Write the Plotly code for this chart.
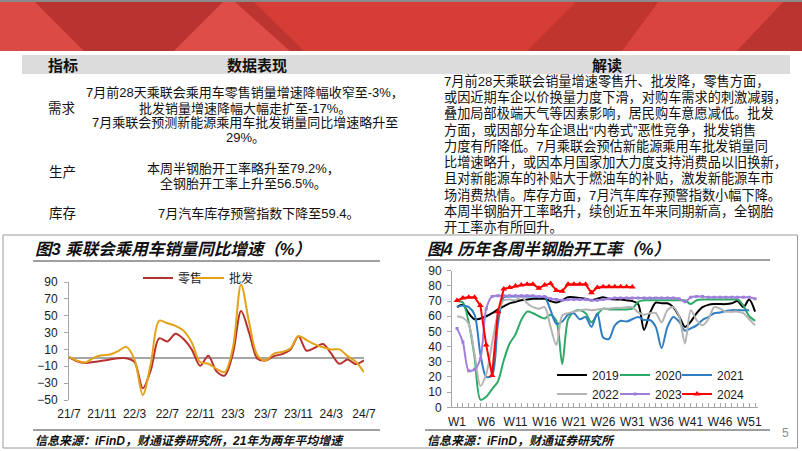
import plotly.graph_objects as go

W, H = 802, 451
def px(x): return x / W
def py(y): return 1 - y / H

FONT = "Liberation Sans, Noto Sans CJK SC, sans-serif"

# ---------------- data: left chart ----------------
months = ['21/7','21/8','21/9','21/10','21/11','21/12',
          '22/1','22/2','22/3','22/4','22/5','22/6','22/7','22/8','22/9','22/10','22/11','22/12',
          '23/1','23/2','23/3','23/4','23/5','23/6','23/7','23/8','23/9','23/10','23/11','23/12',
          '24/1','24/2','24/3','24/4','24/5','24/6','24/7']
month_ticks = ['21/7','21/11','22/3','22/7','22/11','23/3','23/7','23/11','24/3','24/7']
retail = [1, -4, -6, -5, -3.5, -2,
          -0.5, -0.5, -5, -36, -14, 23, 19.5, 28.5, 22, 9.5, -9.5, 2.5,
          -16, -21, 5, 55.5, 29, -1, -3, 2, 4.5, 9.5, 25.5, 8.5,
          12, 16.5, 5, -7, -2, -7.5, -3]
wholesale = [1.5, -3.5, -5.5, 0, 3, 4,
             8, 13, -2, -44, -6, 44, 41, 38, 32, 18, -5, -7,
             -13, -17, 12, 87, 41, 3, -3, 5, 7, 11, 26, 21,
             16, 12.5, 10, 10, 2, -4.5, -17]

# ---------------- data: right chart ----------------
weeks = list(range(1, 53))
week_ticks = [1, 6, 11, 16, 21, 26, 31, 36, 41, 46, 51]
week_labels = ['W1','W6','W11','W16','W21','W26','W31','W36','W41','W46','W51']
y2019 = [66, 67.5, 62, 58, 58.5, 60, 62, 64.5, 66.5, 68.5, 69.5, 70.5, 71, 71.5, 71.5, 71.5, 70, 69,
         70.5, 72.5, 72.5, 72, 71.5, 70.5, 71.5, 72.5, 71.5, 71, 71, 70.5, 70, 68, 51, 62, 69, 68.5,
         68.5, 66, 60, 53, 56.5, 62, 66, 67.5, 68, 68, 68, 68.5, 70, 66, 71, 63]
y2020 = [70, 69, 56, 33, 5, 7, 12, 17, 31, 42, 48, 57.5, 63, 62, 60, 58.5, 61, 57, 28.5, 58,
         63, 64, 62, 56, 61, 65, 64.5, 64.5, 64.5, 64.5, 65, 69.5, 70.5, 70.5, 70.5, 70.5, 70.5,
         70.5, 70.5, 70.5, 68, 70.5, 71, 71, 71, 71, 71, 71, 71, 67, 60, 57]
y2021 = [66, 67, 66, 61, 35, 20, 21, 55, 72.5, 73, 73, 73, 73, 73, 72.5, 72.5, 64, 55, 56.5, 61,
         62, 58, 59.5, 53, 62, 46, 45, 54, 57, 56.5, 58, 59.5, 57.5, 57.5, 53, 39, 53, 59.5, 56.5,
         50.5, 52, 54, 57.5, 59.5, 62, 62.5, 63.5, 64, 64, 64, 64, None]
y2022 = [60, 59, 55, 35, 14, 22, 42, 62, 70.5, 71, 70.5, 73, 68.5, 66, 65, 66, 53, 41, 60.5, 62,
         63, 64, 64.5, 64, 64.5, 65, 65, 65.5, 65.5, 66, 66, 62.5, 61, 62, 62, 56, 64, 66, 60, 42,
         64, 57.5, 54, 58, 66, 65, 63, 63, 63, 62, 58, 54]
y2023 = [52, 43, 24, 25, 32, 65, 73, 73.5, 73.5, 73.5, 73.5, 73.5, 73.5, 73.5, 73, 73, 71.5, 71,
         70.5, 71, 71, 71, 71, 70.5, 70.5, 71, 71.5, 72, 72, 72, 72, 72, 72, 72, 72, 72, 72, 72,
         71.5, 69.5, 72.5, 73, 73, 72.5, 72.5, 72.5, 72.5, 72.5, 72.5, 72.5, 72.5, 71.5]
y2024 = [70.3, 72, 72.5, 72.5, 67, 41, 21, 63, 78, 79, 80, 80.5, 81, 81, 78.5, 80.5, 81.5, 77,
         76.5, 81, 81, 81, 81, 75.5, 79, 79.5, 79.5, 79.5, 79.5, 79.5, 79.2]

# ---------------- table text ----------------
table_headers = ['指标', '数据表现', '解读']
row_labels = ['需求', '生产', '库存']
demand_lines = ['7月前28天乘联会乘用车零售销量增速降幅收窄至-3%，',
                '批发销量增速降幅大幅走扩至-17%。',
                '7月乘联会预测新能源乘用车批发销量同比增速略升至',
                '29%。']
prod_lines = ['本周半钢胎开工率略升至79.2%，', '全钢胎开工率上升至56.5%。']
inv_lines = ['7月汽车库存预警指数下降至59.4。']
read_lines = ['7月前28天乘联会销量增速零售升、批发降，零售方面，',
              '或因近期车企以价换量力度下滑，对购车需求的刺激减弱，',
              '叠加局部极端天气等因素影响，居民购车意愿减低。批发',
              '方面，或因部分车企退出“内卷式”恶性竞争，批发销售',
              '力度有所降低。7月乘联会预估新能源乘用车批发销量同',
              '比增速略升，或因本月国家加大力度支持消费品以旧换新，',
              '且对新能源车的补贴大于燃油车的补贴，激发新能源车市',
              '场消费热情。库存方面，7月汽车库存预警指数小幅下降。',
              '本周半钢胎开工率略升，续创近五年来同期新高，全钢胎',
              '开工率亦有所回升。']

fig = go.Figure()
legend_cfg = {}
def legend_at(lid, text_x, y):
    legend_cfg[lid] = dict(visible=True, orientation='h', x=px(text_x - 40), y=py(y),
                           xanchor='left', yanchor='middle', bgcolor='rgba(0,0,0,0)',
                           font=dict(family=FONT, size=12, color='#1A1A1A'))

# left chart traces
fig.add_trace(go.Scatter(x=months, y=retail, name='零售', mode='lines', showlegend=True,
                         line=dict(color='#B7312F', width=2, shape='spline', smoothing=0.9),
                         xaxis='x', yaxis='y', legend='legend'))
fig.add_trace(go.Scatter(x=months, y=wholesale, name='批发', mode='lines', showlegend=True,
                         line=dict(color='#E3A21A', width=2, shape='spline', smoothing=0.9),
                         xaxis='x', yaxis='y', legend='legend2'))
legend_at('legend', 178, 278)
legend_at('legend2', 229, 278)

# right chart traces
series = [
    ('2019', y2019, '#000000', None, 'legend3', 592, 375),
    ('2020', y2020, '#2EAA68', None, 'legend4', 655, 375),
    ('2021', y2021, '#2F7DC2', None, 'legend5', 717, 375),
    ('2022', y2022, '#B4B4B4', None, 'legend6', 592, 394),
    ('2023', y2023, '#9F7FDB', 'square', 'legend7', 655, 394),
]
for name, ys, col, sym, lg, lx, ly in series:
    fig.add_trace(go.Scatter(
        x=weeks[:len(ys)], y=ys, name=name, showlegend=True,
        mode='lines+markers' if sym else 'lines',
        marker=dict(symbol=sym or 'circle', size=3, color=col),
        line=dict(color=col, width=2, shape='spline', smoothing=0.8),
        connectgaps=False, xaxis='x2', yaxis='y2', legend=lg))
    legend_at(lg, lx, ly)
fig.add_trace(go.Scatter(
    x=weeks[:len(y2024)], y=y2024, name='2024', mode='lines+markers', showlegend=True,
    marker=dict(symbol='triangle-up', size=6, color='#FF0000'),
    line=dict(color='#FF0000', width=2),
    xaxis='x2', yaxis='y2', legend='legend8'))
legend_at('legend8', 717, 394)

axis_gray = '#A6A6A6'
tickfont = dict(family=FONT, size=12, color='#1A1A1A')

fig.update_layout(
    width=W, height=H, margin=dict(l=0, r=0, t=0, b=0, pad=0, autoexpand=False),
    showlegend=True,
    paper_bgcolor='white', plot_bgcolor='rgba(0,0,0,0)',
    font=dict(family=FONT, size=12, color='#1A1A1A'),
    xaxis=dict(domain=[px(69), px(364)], anchor='y', type='category',
               range=[0, 36], tickmode='array', tickvals=month_ticks, ticktext=month_ticks,
               showline=False, showgrid=False, ticks='', tickfont=tickfont, ticklabelstandoff=5),
    yaxis=dict(domain=[py(400), py(282)], anchor='x', range=[-50, 90], tick0=-50, dtick=20,
               showline=True, linecolor=axis_gray, linewidth=1, ticks='outside', ticklen=4,
               tickcolor=axis_gray, showgrid=False, zeroline=True, zerolinecolor=axis_gray,
               zerolinewidth=1.5, tickfont=tickfont, ticklabelstandoff=4),
    xaxis2=dict(domain=[px(452), px(758)], anchor='y2', range=[0.14, 52.5],
                tickmode='array', tickvals=week_ticks, ticktext=week_labels,
                showline=True, linecolor=axis_gray, linewidth=1, ticks='inside', ticklen=4,
                tickcolor=axis_gray, showgrid=False, zeroline=False, tickfont=tickfont,
                ticklabelstandoff=3,
                minor=dict(tickmode='linear', tick0=1, dtick=1, ticks='inside', ticklen=4,
                           tickcolor=axis_gray, showgrid=False)),
    yaxis2=dict(domain=[py(407.3), py(270.7)], anchor='x2', range=[0, 90], dtick=10,
                showline=True, linecolor=axis_gray, linewidth=1, ticks='outside', ticklen=4,
                tickcolor=axis_gray, showgrid=False, zeroline=False, tickfont=tickfont,
                ticklabelstandoff=3),
    **legend_cfg,
)

# ---------------- decorative shapes ----------------
def poly(pts, color):
    d = 'M ' + ' L '.join(f'{px(x):.5f},{py(y):.5f}' for x, y in pts) + ' Z'
    return dict(type='path', xref='paper', yref='paper', path=d,
                fillcolor=color, line=dict(width=0), layer='below')

shapes = [
    poly([(0, 0), (802, 0), (802, 51), (0, 51)], '#D63D37'),
    poly([(0, 0), (33, 0), (84, 51), (0, 51)], '#DB4A44'),
    poly([(33, 0), (225, 0), (174, 51), (84, 51)], '#B93430'),
    poly([(225, 0), (233, 0), (290, 51), (174, 51)], '#DE4D47'),
    poly([(233, 0), (252, 0), (304, 51), (290, 51)], '#BD3531'),
    poly([(578, 0), (660, 0), (622, 51), (527, 51)], '#C0362F'),
    poly([(660, 0), (785, 0), (737, 51), (622, 51)], '#D9443E'),
    poly([(785, 0), (802, 0), (802, 51), (737, 51)], '#BA3430'),
    poly([(0, 0), (802, 0), (802, 2), (0, 2)], '#8A8A8A'),
    # table header band
    poly([(22, 55), (790, 55), (790, 74), (22, 74)], '#DCDCDC'),
]
shapes.append(dict(type='rect', xref='paper', yref='paper', x0=px(3), x1=px(797.5),
                   y0=py(448), y1=py(235), line=dict(color='#9A9A9A', width=1),
                   fillcolor='rgba(0,0,0,0)'))
for x0, x1, y in [(33, 380, 261), (425, 770, 260), (33, 380, 430), (425, 770, 430)]:
    shapes.append(dict(type='line', xref='paper', yref='paper', x0=px(x0), x1=px(x1),
                       y0=py(y), y1=py(y), line=dict(color='#404040', width=1)))
fig.update_layout(shapes=shapes)

# ---------------- text ----------------
ann = []
def text(x, y, s, size=13, anchor='center', color='#111111', family=FONT):
    ann.append(dict(x=px(x), y=py(y), xref='paper', yref='paper', text=s, showarrow=False,
                    xanchor=anchor, yanchor='middle', font=dict(family=family, size=size, color=color)))

for hx, h in zip([63, 257, 607], table_headers):
    text(hx, 65, f'<b>{h}</b>', size=15)
for ly, lab in zip([108, 173, 213], row_labels):
    text(62, ly, lab, size=13.5)
for i, s in enumerate(demand_lines):
    text(245, 93 + 15 * i, s, size=13)
for i, s in enumerate(prod_lines):
    text(243, 168 + 15 * i, s, size=13)
for s in inv_lines:
    text(259, 213, s, size=13)
for i, s in enumerate(read_lines):
    text(442, 80.7 + 16.3 * i, s, size=13.2, anchor='left')

text(33, 249, '<b><i>图3 乘联会乘用车销量同比增速（%）</i></b>', size=16.5, anchor='left')
text(425, 249, '<b><i>图4 历年各周半钢胎开工率（%）</i></b>', size=16.5, anchor='left')
text(33, 441, '<b><i>信息来源：iFinD，财通证券研究所，21年为两年平均增速</i></b>', size=12, anchor='left')
text(425, 441, '<b><i>信息来源：iFinD，财通证券研究所</i></b>', size=12, anchor='left')
text(785, 433, '5', size=12, color='#8C8C8C')
fig.update_layout(annotations=ann)

fig.write_html('out.html')
